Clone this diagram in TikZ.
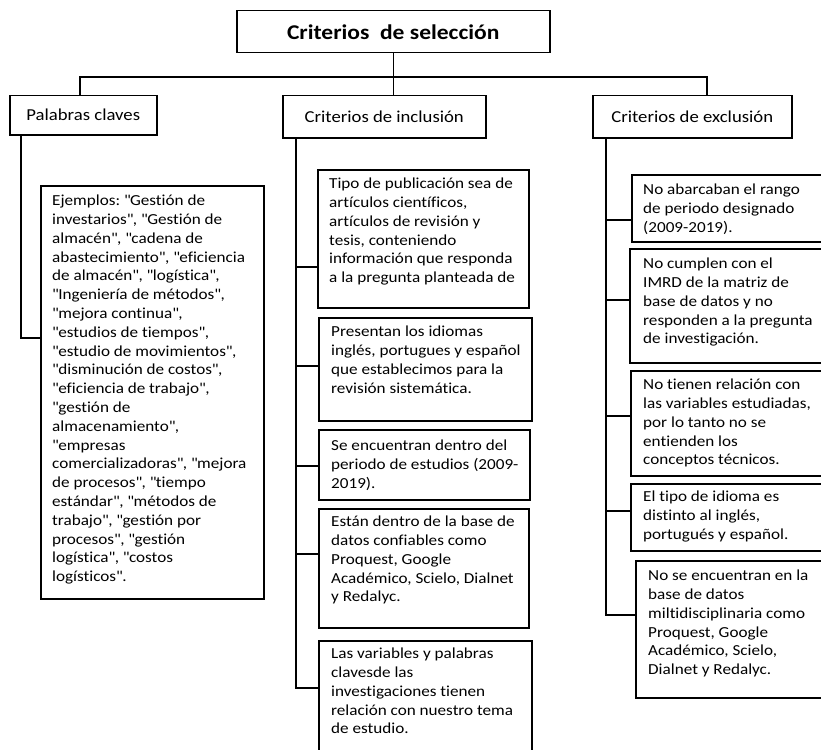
\documentclass[tikz,border=0pt]{standalone}
\usepackage{fontspec}
\setmainfont{Carlito}[FakeStretch=1.12, Ligatures=CommonOff]
\newcommand{\qq}{\textquotedbl}
\frenchspacing
\begin{document}
\begin{tikzpicture}[x=1pt,y=-1pt,
  box/.style={draw=black, line width=1.5pt, anchor=north west, inner sep=0pt},
  conn/.style={draw=black, line width=1.5pt},
  txt/.style={anchor=north west, align=left, inner sep=0pt, yshift=11.2pt,
    font=\fontsize{15.3}{18.8}\selectfont, execute at begin node=\strut},
  head/.style={font=\fontsize{16.7}{20}\selectfont},
  ttl/.style={font=\bfseries\fontsize{21}{25}\selectfont}]
\useasboundingbox (0,0) rectangle (821,749);

% header row
\node[box, ttl, minimum width=313pt, minimum height=42pt] (title) at (236,10) {Criterios\ \ de selección};
\node[box, head, minimum width=147pt, minimum height=39pt] (pal) at (9,95) {Palabras claves};
\node[box, head, minimum width=203pt, minimum height=42pt] (incl) at (282,95) {Criterios de inclusión};
\node[box, head, minimum width=199pt, minimum height=42pt] (excl) at (592,95) {Criterios de exclusión};

% left column
\node[box, minimum width=223pt, minimum height=413pt] (ej) at (40,185) {};
\node[txt] (tej) at (52,206) {Ejemplos: \qq Gestión de\\
investarios\qq, \qq Gestión de\\
almacén\qq, \qq cadena de\\
abastecimiento\qq, \qq eficiencia\\
de almacén\qq, \qq logística\qq,\\
\qq Ingeniería de métodos\qq,\\
\qq mejora continua\qq,\\
\qq estudios de tiempos\qq,\\
\qq estudio de movimientos\qq,\\
\qq disminución de costos\qq,\\
\qq eficiencia de trabajo\qq,\\
\qq gestión de\\
almacenamiento\qq,\\
\qq empresas\\
comercializadoras\qq, \qq mejora\\
de procesos\qq, \qq tiempo\\
estándar\qq, \qq métodos de\\
trabajo\qq, \qq gestión por\\
procesos\qq, \qq gestión\\
logística\qq, \qq costos\\
logísticos\qq.};

% middle column
\node[box, minimum width=211pt, minimum height=138pt] (i1) at (317,169) {};
\node[txt] (ti1) at (329,189) {Tipo de publicación sea de\\ artículos científicos,\\ artículos de revisión y\\ tesis, conteniendo\\ información que responda\\ a la pregunta planteada de};
\node[box, minimum width=213pt, minimum height=103pt] (i2) at (318,317) {};
\node[txt] (ti2) at (331,337) {Presentan los idiomas\\ inglés, portugues y español\\ que establecimos para la\\ revisión sistemática.};
\node[box, minimum width=211pt, minimum height=70pt] (i3) at (318,429) {};
\node[txt] (ti3) at (331,451) {Se encuentran dentro del\\ periodo de estudios (2009-\\ 2019).};
\node[box, minimum width=210pt, minimum height=119pt] (i4) at (318,508) {};
\node[txt] (ti4) at (331,527) {Están dentro de la base de\\ datos confiables como\\ Proquest, Google\\ Académico, Scielo, Dialnet\\ y Redalyc.};
\node[box, minimum width=213pt, minimum height=130pt] (i5) at (318,640) {};
\node[txt] (ti5) at (331,659) {Las variables y palabras\\ clavesde las\\ investigaciones tienen\\ relación con nuestro tema\\ de estudio.};

% right column
\node[box, minimum width=200pt, minimum height=67pt] (e1) at (631,174) {};
\node[txt] (te1) at (643,195) {No abarcaban el rango\\ de periodo designado\\ (2009-2019).};
\node[box, minimum width=202pt, minimum height=114pt] (e2) at (629,248) {};
\node[txt] (te2) at (643,269) {No cumplen con el\\ IMRD de la matriz de\\ base de datos y no\\ responden a la pregunta\\ de investigación.};
\node[box, minimum width=201pt, minimum height=105pt] (e3) at (630,370) {};
\node[txt] (te3) at (643,390) {No tienen relación con\\ las variables estudiadas,\\ por lo tanto no se\\ entienden los\\ conceptos técnicos.};
\node[box, minimum width=201pt, minimum height=67pt] (e4) at (630,483) {};
\node[txt] (te4) at (643,502) {El tipo de idioma es\\ distinto al inglés,\\ portugués y español.};
\node[box, minimum width=196pt, minimum height=137pt] (e5) at (635,560) {};
\node[txt] (te5) at (648,581) {No se encuentran en la\\ base de datos\\ miltidisciplinaria como\\ Proquest, Google\\ Académico, Scielo,\\ Dialnet y Redalyc.};

% connectors: top tree
\coordinate (bus) at (0,77);
\draw[conn] (title.south) -- (title.south |- incl.north);
\draw[conn] ([xshift=-3.5pt]pal.north) -- ([xshift=-3.5pt]pal.north |- bus)
  -- ([xshift=14.5pt]excl.north |- bus) -- ([xshift=14.5pt]excl.north);

% left spine
\draw[conn] ([xshift=12pt]pal.south west) |- (ej.west |- 0,338);

% middle spine
\coordinate (ms) at ([xshift=14pt]incl.south west);
\draw[conn] (ms) |- (i5.west |- 0,688);
\draw[conn] (ms |- 0,267) -- (i1.west |- 0,267);
\draw[conn] (ms |- 0,366) -- (i2.west |- 0,366);
\draw[conn] (ms |- 0,466) -- (i3.west |- 0,466);
\draw[conn] (ms |- 0,554) -- (i4.west |- 0,554);

% right spine
\coordinate (es) at ([xshift=14pt]excl.south west);
\draw[conn] (es) |- (e5.west |- 0,615);
\draw[conn] (es |- 0,220) -- (e1.west |- 0,220);
\draw[conn] (es |- 0,300) -- (e2.west |- 0,300);
\draw[conn] (es |- 0,416) -- (e3.west |- 0,416);
\draw[conn] (es |- 0,511) -- (e4.west |- 0,511);
\end{tikzpicture}
\end{document}
